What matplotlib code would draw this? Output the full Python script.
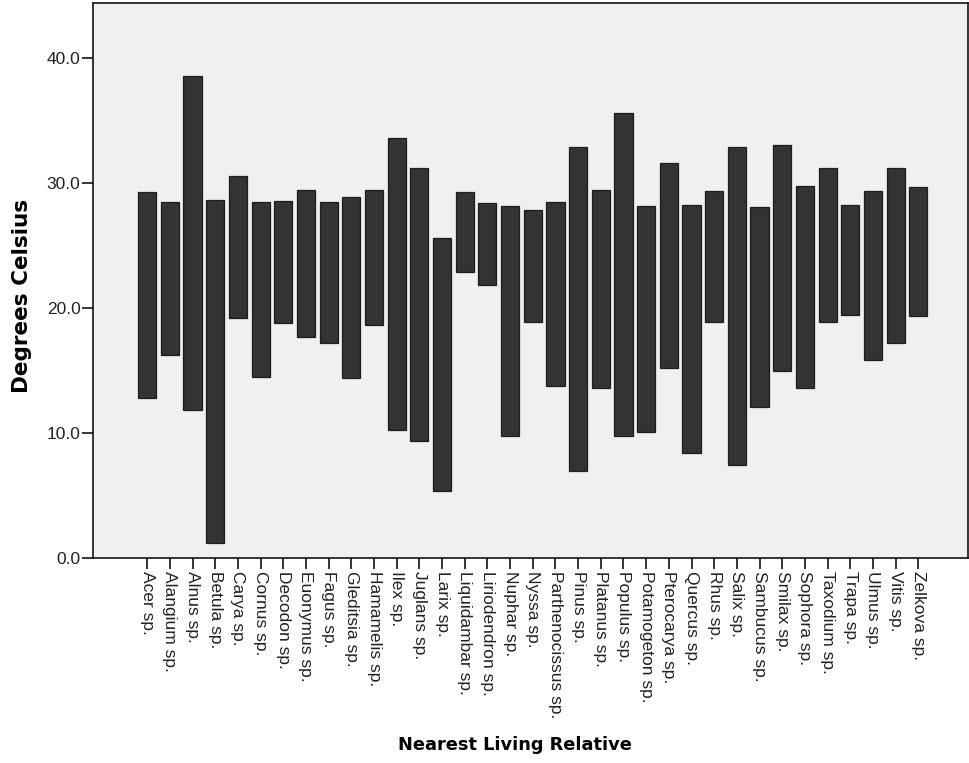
# floating range bars: temperature range per nearest living relative
import matplotlib
matplotlib.use('Agg')
import matplotlib.pyplot as plt
import numpy as np

plt.rcParams['font.family'] = ['Liberation Sans', 'DejaVu Sans']

# data
taxa = ['Acer sp.', 'Alangium sp.', 'Alnus sp.', 'Betula sp.', 'Carya sp.',
        'Cornus sp.', 'Decodon sp.', 'Euonymus sp.', 'Fagus sp.', 'Gleditsia sp.',
        'Hamamelis sp.', 'Ilex sp.', 'Juglans sp.', 'Larix sp.', 'Liquidambar sp.',
        'Liriodendron sp.', 'Nuphar sp.', 'Nyssa sp.', 'Parthenocissus sp.',
        'Pinus sp.', 'Platanus sp.', 'Populus sp.', 'Potamogeton sp.',
        'Pterocarya sp.', 'Quercus sp.', 'Rhus sp.', 'Salix sp.', 'Sambucus sp.',
        'Smilax sp.', 'Sophora sp.', 'Taxodium sp.', 'Trapa sp.', 'Ulmus sp.',
        'Vitis sp.', 'Zelkova sp.']
low = [12.8, 16.3, 11.9, 1.2, 19.2, 14.5, 18.8, 17.7, 17.2, 14.4,
       18.7, 10.3, 9.4, 5.4, 22.9, 21.9, 9.8, 18.9, 13.8,
       7.0, 13.6, 9.8, 10.1, 15.2, 8.4, 18.9, 7.5, 12.1,
       15.0, 13.6, 18.9, 19.5, 15.9, 17.2, 19.4]
high = [29.3, 28.5, 38.6, 28.7, 30.6, 28.5, 28.6, 29.5, 28.5, 28.9,
        29.5, 33.6, 31.2, 25.6, 29.3, 28.4, 28.2, 27.9, 28.5,
        32.9, 29.5, 35.6, 28.2, 31.6, 28.3, 29.4, 32.9, 28.1,
        33.1, 29.8, 31.2, 28.3, 29.4, 31.2, 29.7]

low = np.array(low)
high = np.array(high)
x = np.arange(len(taxa))

fig = plt.figure(figsize=(9.69, 7.63), dpi=100)
ax = fig.add_axes([93/969, 1 - 558.3/763, (968 - 93)/969, (558.3 - 3)/763])
ax.set_facecolor('#f0f0f0')

ax.bar(x, high - low, bottom=low, width=0.8, color='#333333',
       edgecolor='#1c1c1c', linewidth=0.9)

ax.set_xlim(-2.39, 36.19)
ax.set_ylim(0, 44.42)
ax.set_yticks([0, 10, 20, 30, 40])
ax.set_yticklabels(['%.1f' % v for v in [0, 10, 20, 30, 40]])
ax.set_xticks(x)
ax.set_xticklabels(taxa, rotation=-90, va='top', ha='center')

ax.tick_params(axis='both', direction='out', length=8, width=1.1,
               color='black', labelsize=12.5, labelcolor='#222222', pad=1)

for s in ax.spines.values():
    s.set_color('black')
    s.set_linewidth(1.1)

# axis titles
fig.text(22/969, 1 - 296/763, 'Degrees Celsius', rotation=90, ha='center',
         va='center', fontsize=15.5, fontweight='bold', family='DejaVu Sans')
fig.text(515/969, 1 - 745/763, 'Nearest Living Relative', ha='center',
         va='center', fontsize=12.8, fontweight='bold', family='DejaVu Sans')

fig.savefig('out.png', dpi=100, facecolor='white')
